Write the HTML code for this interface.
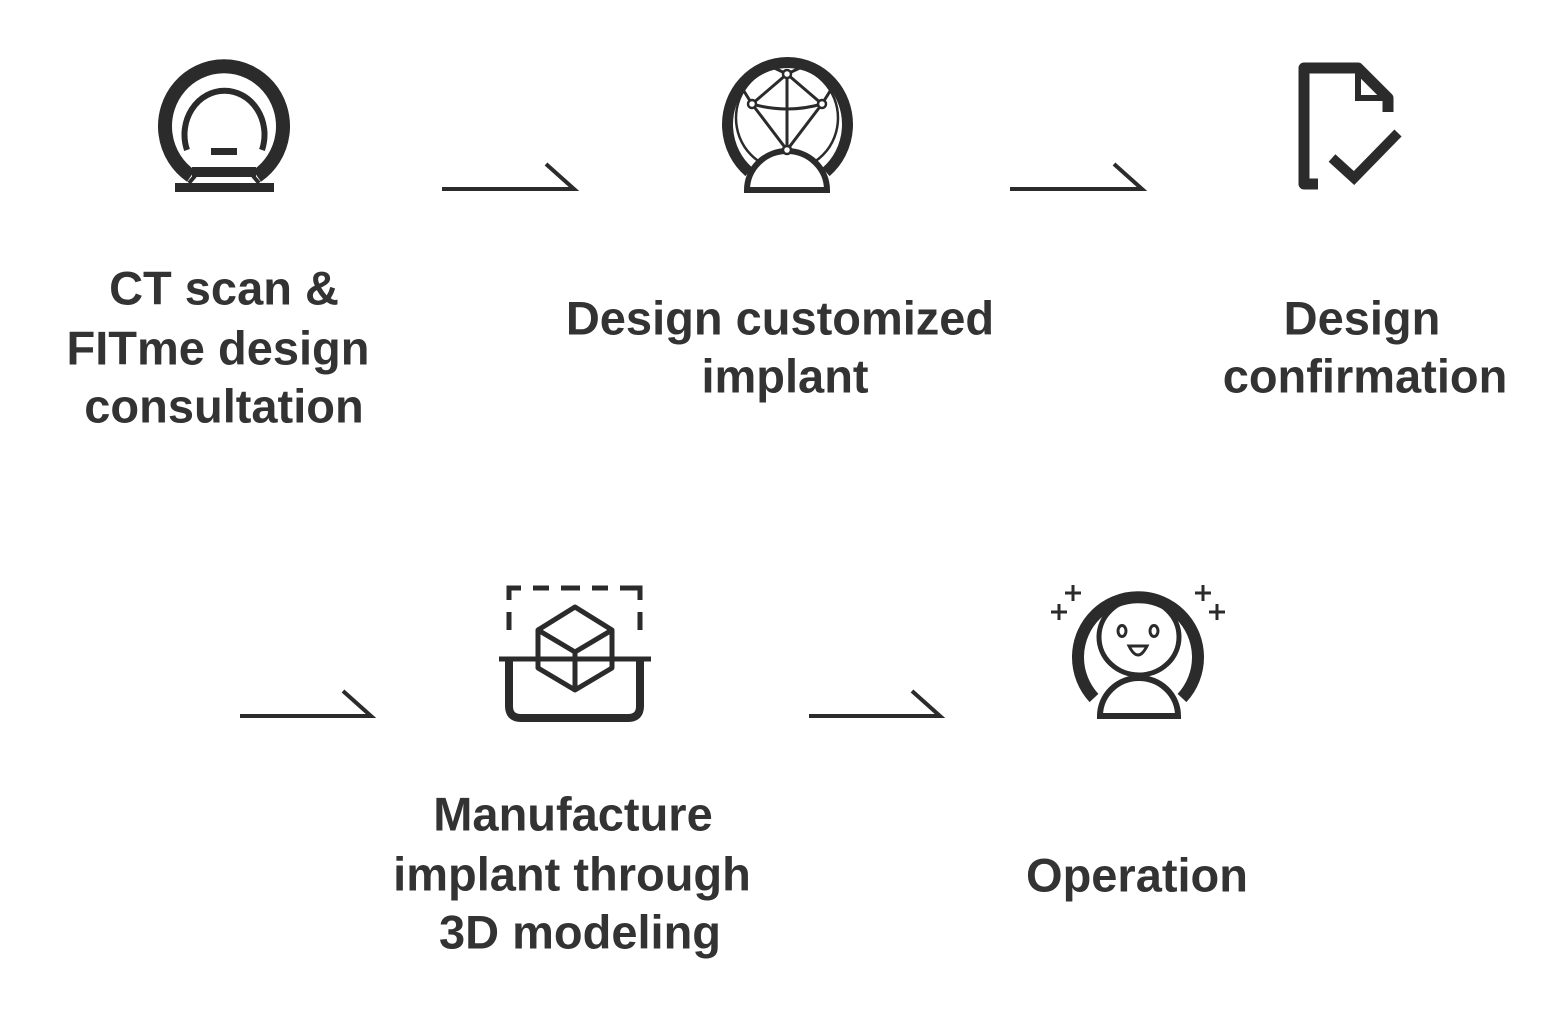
<!DOCTYPE html>
<html><head><meta charset="utf-8"><style>
html,body{margin:0;padding:0;background:#fff;}
svg{display:block}
text{font-family:"Liberation Sans",sans-serif;font-weight:bold;font-size:47px;fill:#333;text-anchor:middle;dominant-baseline:central}
</style></head><body>
<svg width="1550" height="1011" viewBox="0 0 1550 1011" xmlns="http://www.w3.org/2000/svg">
<g fill="none" stroke="#2b2b2b" stroke-linecap="butt">
<!-- Icon 1 CT -->
<path d="M191,176 A59,60 0 1 1 257,176" stroke-width="14"/>
<path d="M187,150 A40,44 0 1 1 262,150" stroke-width="6"/>
<rect x="192" y="167" width="64" height="10" fill="#2b2b2b" stroke="none"/>
<rect x="211" y="148" width="26" height="7" fill="#2b2b2b" stroke="none"/>
<rect x="175" y="183" width="99" height="9" fill="#2b2b2b" stroke="none"/>
<path d="M195,176 L189,183 M253,176 L259,183" stroke-width="4"/>
<!-- Arrow 1 -->
<path d="M442,189 L574,189 L546,164" stroke-width="4"/>
<!-- Icon 2 -->
<path d="M749,172 A60,62 0 1 1 826,172" stroke-width="11"/>
<ellipse cx="787" cy="118" rx="51" ry="52" stroke-width="2.5"/>
<path d="M747,190 A40,39 0 0 1 827,190 Z" stroke-width="6" fill="#fff"/>
<path d="M787,74 L787,150 M787,74 L752,104 M787,74 L822,104 M752,104 Q787,114 822,104 M752,104 L787,150 L822,104 M752,104 L742,88 M822,104 L832,88 M787,74 L770,66 M787,74 L804,66" stroke-width="3"/>
<circle cx="787" cy="74" r="4" fill="#fff" stroke-width="2.5"/>
<circle cx="752" cy="104" r="4" fill="#fff" stroke-width="2.5"/>
<circle cx="822" cy="104" r="4" fill="#fff" stroke-width="2.5"/>
<circle cx="787" cy="150" r="4" fill="#fff" stroke-width="2.5"/>
<!-- Arrow 2 -->
<path d="M1010,189 L1142,189 L1114,164" stroke-width="4"/>
<!-- Icon 3 doc -->
<path d="M1318,184 L1304,184 L1304,68 L1358,68 L1388,98 L1388,112" stroke-width="11" stroke-linejoin="round"/>
<path d="M1358,68 L1358,98 L1388,98" stroke-width="6"/>
<path d="M1332,158 L1354,178 L1398,133" stroke-width="10"/>
<!-- Arrow 3 -->
<path d="M240,716 L371,716 L343,691" stroke-width="4"/>
<!-- Icon 4 -->
<path d="M509,600 L509,588 L521,588 M533,588 L549,588 M561,588 L580,588 M592,588 L608,588 M620,588 L640,588 L640,600 M509,612 L509,630 M640,612 L640,630" stroke-width="5"/>
<path d="M499,659 L651,659" stroke-width="5"/>
<path d="M509,659 L509,706 Q509,718 521,718 L628,718 Q640,718 640,706 L640,659" stroke-width="8"/>
<path d="M575,607 L612,630 L612,668 L575,690 L538,668 L538,630 Z M538,630 L575,652 L612,630 M575,652 L575,690" stroke-width="5" stroke-linejoin="round"/>
<!-- Arrow 4 -->
<path d="M809,716 L940,716 L912,691" stroke-width="4"/>
<!-- Icon 5 -->
<path d="M1094,698 A60,60 0 1 1 1182,698" stroke-width="12"/>
<ellipse cx="1139" cy="637" rx="40" ry="38" stroke-width="5"/>
<path d="M1100,716 A39,38 0 0 1 1178,716 Z" stroke-width="6" fill="#fff"/>
<ellipse cx="1122" cy="631" rx="4" ry="5.5" stroke-width="3"/>
<ellipse cx="1154" cy="631" rx="4" ry="5.5" stroke-width="3"/>
<path d="M1129,646 Q1138,664 1147,646 Z" stroke-width="3"/>
<path d="M1073,585 L1073,601 M1065,593 L1081,593 M1059,604 L1059,620 M1051,612 L1067,612 M1203,585 L1203,601 M1195,593 L1211,593 M1217,604 L1217,620 M1209,612 L1225,612" stroke-width="3"/>
</g>
<text x="224" y="288">CT scan &amp;</text>
<text x="218" y="348">FITme design</text>
<text x="224" y="406">consultation</text>
<text x="780" y="318">Design customized</text>
<text x="785" y="376">implant</text>
<text x="1362" y="318">Design</text>
<text x="1365" y="376">confirmation</text>
<text x="573" y="814">Manufacture</text>
<text x="572" y="874">implant through</text>
<text x="580" y="932">3D modeling</text>
<text x="1137" y="875">Operation</text>
</svg>
</body></html>
